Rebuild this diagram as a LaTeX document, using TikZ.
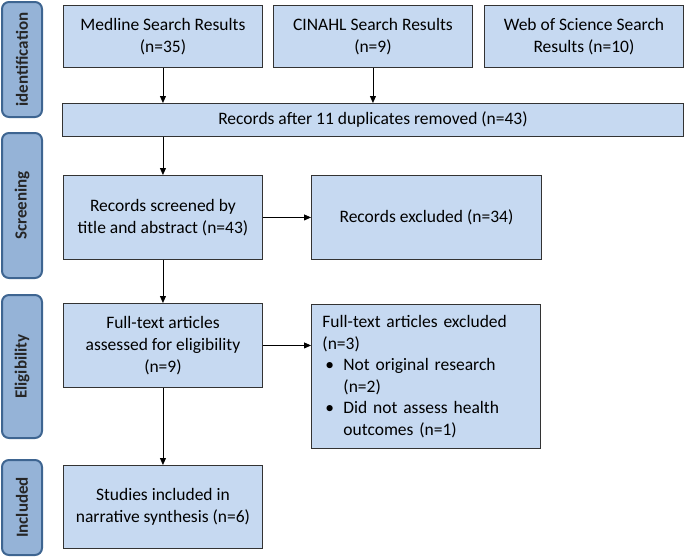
\documentclass[tikz,border=0pt]{standalone}
\usepackage{fontspec}
\setmainfont{Carlito}
\usetikzlibrary{arrows.meta}
\definecolor{boxfill}{HTML}{C6D9F1}
\definecolor{tabfill}{HTML}{95B3D7}
\definecolor{tabline}{HTML}{3E6591}
\tikzset{
  box/.style={draw=black!80, fill=boxfill, line width=0.9pt, anchor=north west,
    inner sep=0pt, align=center, font=\fontsize{17.5}{22}\selectfont},
  tab/.style={draw=tabline, fill=tabfill, line width=2pt, rounded corners=7pt,
    rotate=90, inner sep=0pt, text=black!85, font=\bfseries\fontsize{17}{20}\selectfont},
  arr/.style={-{Triangle[length=7pt,width=6pt]}, line width=0.8pt}
}
\begin{document}
\begin{tikzpicture}[x=1pt,y=-1pt]
  \useasboundingbox (0,0) rectangle (685,557);

  % phase tabs
  \node[tab, minimum width=115, minimum height=40] (tabid) at (22,59.5) {identification};
  \node[tab, minimum width=145, minimum height=40] (tabscr) at (22,205.5) {Screening};
  \node[tab, minimum width=143, minimum height=40] (tabeli) at (22,366.5) {Eligibility};
  \node[tab, minimum width=95, minimum height=40] (tabinc) at (22,507.5) {Included};

  % boxes
  \node[box, minimum width=199, minimum height=62] (medline) at (63,5) {Medline Search Results\\(n=35)};
  \node[box, minimum width=199, minimum height=62] (cinahl) at (273,5) {CINAHL Search Results\\(n=9)};
  \node[box, minimum width=199, minimum height=62] (wos) at (484,5) {Web of Science Search\\Results (n=10)};
  \node[box, minimum width=621, minimum height=33] (dedup) at (62,103) {Records after 11 duplicates removed (n=43)};
  \node[box, minimum width=199, minimum height=84] (screen) at (63,175) {Records screened by\\title and abstract (n=43)};
  \node[box, minimum width=230, minimum height=84] (excl) at (311,175) {Records excluded (n=34)};
  \node[box, minimum width=199, minimum height=84] (full) at (63,303) {Full-text articles\\assessed for eligibility\\(n=9)};
  \node[box, minimum width=229, minimum height=144, align=left, inner xsep=11pt,
    text width=207pt, font=\fontsize{17.5}{21.5}\selectfont] (ftexcl) at (311,304)
    {Full-text articles excluded\\(n=3)\\
     \makebox[21pt][l]{\hspace{3pt}\textbullet}Not original research\\
     \hspace*{21pt}(n=2)\\
     \makebox[21pt][l]{\hspace{3pt}\textbullet}Did not assess health\\
     \hspace*{21pt}outcomes (n=1)};
  \node[box, minimum width=199, minimum height=83] (incl) at (63,465) {Studies included in\\narrative synthesis (n=6)};

  % arrows
  \draw[arr] (medline.south) -- (medline.south |- dedup.north);
  \draw[arr] (cinahl.south) -- (cinahl.south |- dedup.north);
  \draw[arr] (screen.north |- dedup.south) -- (screen.north);
  \draw[arr] (screen.east) -- (excl.west);
  \draw[arr] (screen.south) -- (full.north);
  \draw[arr] (full.east) -- (full.east -| ftexcl.west);
  \draw[arr] (full.south) -- (incl.north);
\end{tikzpicture}
\end{document}
